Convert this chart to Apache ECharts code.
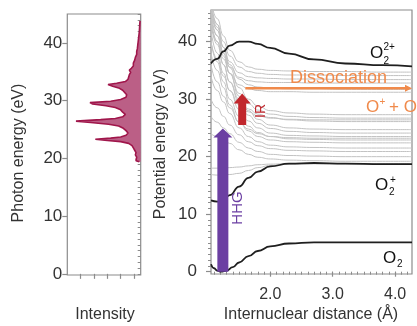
<!DOCTYPE html>
<html>
<head>
<meta charset="utf-8">
<title>O2 HHG spectrum and potential curves</title>
<script src="https://cdn.jsdelivr.net/npm/echarts@6.0.0/dist/echarts.min.js"></script>
<style>
html, body { margin: 0; padding: 0; background: #fff; }
#main { width: 417px; height: 326px; }
</style>
</head>
<body>
<div id="main"></div>
<script>
// left panel: HHG spectrum, photon energy (eV) against intensity (arb. units)
var photonEnergy = [19.4, 19.6, 19.9, 20.2, 20.6, 21.0, 21.4, 21.8, 22.2, 22.6,
  22.9, 23.1, 23.3, 23.5, 23.7, 24.0, 24.4, 24.8, 25.2, 25.6,
  25.9, 26.2, 26.45, 26.7, 26.9, 27.2, 27.6, 28.0, 28.4, 28.8,
  29.1, 29.4, 29.65, 29.9, 30.2, 30.6, 31.0, 31.4, 31.8, 32.2,
  32.5, 32.8, 33.0, 33.3, 33.7, 34.1, 34.5, 34.9, 35.3, 35.6,
  36.0, 36.5, 37.0, 37.5, 38.0, 38.5, 39.0, 40.0, 41.0, 42.0,
  43.0, 43.8];
var intensity = [0.02, 0.07, 0.08, 0.06, 0.08, 0.07, 0.09, 0.11, 0.13, 0.18,
  0.30, 0.50, 0.68, 0.45, 0.30, 0.22, 0.19, 0.22, 0.26, 0.33,
  0.48, 0.75, 0.97, 0.60, 0.38, 0.27, 0.23, 0.27, 0.30, 0.38,
  0.52, 0.72, 0.76, 0.45, 0.30, 0.22, 0.21, 0.24, 0.27, 0.33,
  0.42, 0.49, 0.36, 0.23, 0.19, 0.18, 0.17, 0.15, 0.17, 0.14,
  0.11, 0.11, 0.09, 0.08, 0.06, 0.06, 0.05, 0.04, 0.03, 0.02,
  0.015, 0.01];

// right panel: potential energy curves (eV) against internuclear distance (A)
var distance = [1.05, 1.15, 1.25, 1.35, 1.5, 1.65, 1.8, 2.0, 2.3, 2.7, 3.2, 3.8, 4.27];
var o2Distance = [1.05, 1.1, 1.15, 1.21, 1.3, 1.4, 1.5, 1.65, 1.8, 2.0, 2.3, 2.7, 3.2, 3.8, 4.27];
var o2Ground = [1.3, 0.6, 0.2, 0.0, 0.2, 0.8, 1.6, 2.7, 3.6, 4.4, 4.9, 5.1, 5.1, 5.1, 5.1];
var o2Cation = [12.4, 12.2, 12.5, 13.3, 14.8, 16.3, 17.4, 18.3, 18.8, 18.9, 18.8, 18.7, 18.7];
var o2Dication = [36.2, 37.0, 38.3, 39.3, 40.0, 40.0, 39.6, 38.9, 37.9, 36.9, 36.2, 35.9, 35.7];
var excitedStates = [
  [47, 44, 41, 38.5, 36.5, 35.6, 35.2, 35.0, 34.9, 34.8, 34.8, 34.7, 34.7],
  [46, 43, 40, 37.5, 35.6, 34.8, 34.5, 34.3, 34.2, 34.2, 34.1, 34.1, 34.1],
  [45, 42, 39, 36.5, 34.6, 33.9, 33.7, 33.6, 33.5, 33.5, 33.4, 33.4, 33.4],
  [44, 41, 38, 35.6, 33.8, 33.2, 33.0, 32.9, 32.9, 32.8, 32.8, 32.8, 32.8],
  [46, 42.5, 39, 36, 33.5, 32.5, 32.1, 31.9, 31.8, 31.8, 31.7, 31.7, 31.7],
  [43, 40, 37, 34.5, 32.5, 31.8, 31.5, 31.3, 31.3, 31.2, 31.2, 31.2, 31.2],
  [47, 43, 39, 35.5, 32, 30, 28.8, 28.0, 27.6, 27.4, 27.3, 27.3, 27.3],
  [45, 41, 37.5, 34.5, 31, 29.2, 28.1, 27.4, 27.0, 26.8, 26.7, 26.7, 26.7],
  [43, 39.5, 36, 33, 30, 28.3, 27.4, 26.8, 26.4, 26.2, 26.1, 26.1, 26.1],
  [40, 37, 34, 31.5, 29, 27.8, 27.1, 26.7, 26.5, 26.4, 26.4, 26.4, 26.4],
  [46, 42, 38, 34.5, 30.5, 28, 26.5, 25.5, 25.0, 24.8, 24.7, 24.7, 24.7],
  [44, 40, 36, 33, 29.5, 27.2, 25.8, 24.9, 24.4, 24.2, 24.1, 24.1, 24.1],
  [42, 38, 34.5, 31.5, 28.2, 26.2, 25.0, 24.1, 23.7, 23.6, 23.5, 23.5, 23.5],
  [40, 36.5, 33, 30, 27, 25.3, 24.2, 23.5, 23.1, 23.0, 22.9, 22.9, 22.9],
  [38, 35, 32, 29, 26, 24.5, 23.5, 22.9, 22.6, 22.5, 22.4, 22.4, 22.4],
  [36, 33, 30.5, 28.5, 26, 24.8, 24.0, 23.5, 23.3, 23.2, 23.2, 23.2, 23.2],
  [34, 31.5, 29.5, 27.5, 25, 23.5, 22.6, 22.0, 21.7, 21.6, 21.5, 21.5, 21.5],
  [30, 28.5, 27, 25.5, 23.8, 22.6, 21.9, 21.4, 21.1, 21.0, 20.9, 20.9, 20.9],
  [27, 26, 25, 24, 22.5, 21.5, 20.9, 20.4, 20.2, 20.1, 20.0, 20.0, 20.0],
  [24, 23.5, 23, 22.3, 21.2, 20.4, 19.9, 19.6, 19.4, 19.3, 19.2, 19.2, 19.2],
  [18.0, 18.0, 18.0, 18.1, 18.2, 18.4, 18.6, 18.7, 18.8, 18.8, 18.8, 18.8, 18.8],
  [16.9, 16.8, 16.8, 16.9, 17.1, 17.6, 18.1, 18.5, 18.7, 18.75, 18.75, 18.7, 18.7]
];

// arrows: [distance, from energy, to energy] and [from distance, to distance, energy]
var hhgArrow = [1.24, 0, 24.9];
var irArrow = [1.55, 25.5, 31.0];
var dissociationArrow = [1.6, 4.27, 31.9];

var energyTicks = [0, 10, 20, 30, 40];
var distanceTicks = [2.0, 3.0, 4.0];
var intensityTicks = [0.1, 0.3, 0.5, 0.7, 0.9];

function steps(from, to, step) {
  var out = [];
  for (var v = from; v <= to + 1e-9; v += step) out.push(Math.round(v * 100) / 100);
  return out;
}
var energyMinor = steps(0, 45, 1);
var distanceMinor = steps(1.1, 4.2, 0.1);

var FONT = 'Liberation Sans, Arial, Helvetica, sans-serif';
var BOX = '#8c8c8c';
var TXT = '#333';

var chart = echarts.init(document.getElementById('main'), null, { renderer: 'canvas' });

function hidden() { return { show: false }; }

function blockArrow(color, shaftW, headW, headH) {
  return function (params, api) {
    var p0 = api.coord([api.value(0), api.value(1)]);
    var p1 = api.coord([api.value(0), api.value(2)]);
    var cx = p0[0], yb = p0[1], yt = p1[1];
    return {
      type: 'polygon',
      shape: { points: [
        [cx - shaftW / 2, yb], [cx - shaftW / 2, yt + headH], [cx - headW / 2, yt + headH],
        [cx, yt], [cx + headW / 2, yt + headH], [cx + shaftW / 2, yt + headH], [cx + shaftW / 2, yb]
      ] },
      style: { fill: color }
    };
  };
}

var series = [];

// spectrum fill, closed against zero intensity (right edge)
series.push({
  type: 'custom', xAxisIndex: 0, yAxisIndex: 0, data: [[0, 0]], silent: true, clip: true,
  renderItem: function (params, api) {
    var pts = photonEnergy.map(function (e, i) { return api.coord([intensity[i], e]); });
    pts.push(api.coord([0, photonEnergy[photonEnergy.length - 1]]));
    pts.push(api.coord([0, photonEnergy[0]]));
    return { type: 'polygon', shape: { points: pts }, style: { fill: '#bb5f86' } };
  }
});
series.push({
  type: 'line', xAxisIndex: 0, yAxisIndex: 0, symbol: 'none', silent: true, z: 3,
  data: photonEnergy.map(function (e, i) { return [intensity[i], e]; }),
  lineStyle: { color: '#a0164b', width: 1.6 }
});

excitedStates.forEach(function (curve) {
  series.push({
    type: 'line', xAxisIndex: 1, yAxisIndex: 2, symbol: 'none', silent: true, z: 2,
    smooth: true, smoothMonotone: 'x',
    data: distance.map(function (d, i) { return [d, curve[i]]; }),
    lineStyle: { color: '#c2c2c2', width: 1 }
  });
});

[[o2Distance, o2Ground], [distance, o2Cation], [distance, o2Dication]].forEach(function (c) {
  series.push({
    type: 'line', xAxisIndex: 1, yAxisIndex: 2, symbol: 'none', silent: true, z: 3,
    smooth: true, smoothMonotone: 'x',
    data: c[0].map(function (d, i) { return [d, c[1][i]]; }),
    lineStyle: { color: '#1f1f1f', width: 1.8 }
  });
});

series.push({
  type: 'custom', xAxisIndex: 1, yAxisIndex: 2, data: [dissociationArrow], silent: true, clip: false, z: 5,
  encode: { x: [0, 1], y: 2 },
  renderItem: function (params, api) {
    var p0 = api.coord([api.value(0), api.value(2)]);
    var p1 = api.coord([api.value(1), api.value(2)]);
    return { type: 'group', children: [
      { type: 'line', shape: { x1: p0[0], y1: p0[1], x2: p1[0] - 5, y2: p1[1] },
        style: { stroke: '#f08a4b', lineWidth: 2.4 } },
      { type: 'polygon', shape: { points: [[p1[0] - 7, p1[1] - 3.5], [p1[0], p1[1]], [p1[0] - 7, p1[1] + 3.5]] },
        style: { fill: '#f08a4b' } }
    ] };
  }
});
series.push({
  type: 'custom', xAxisIndex: 1, yAxisIndex: 2, data: [irArrow], silent: true, clip: false, z: 5,
  encode: { x: 0, y: [1, 2] },
  renderItem: blockArrow('#c1272d', 8, 17, 10)
});
series.push({
  type: 'custom', xAxisIndex: 1, yAxisIndex: 2, data: [hhgArrow], silent: true, clip: false, z: 5,
  encode: { x: 0, y: [1, 2] },
  renderItem: blockArrow('#6b3fa2', 11, 19, 9)
});

function txt(x, y, s, size, color, extra) {
  var el = { type: 'text', x: x, y: y, silent: true, z: 10,
    style: { text: s, font: size + 'px ' + FONT, fill: color, align: 'left', verticalAlign: 'middle' } };
  if (extra) {
    if (extra.rotation) el.rotation = extra.rotation;
    if (extra.align) el.style.align = extra.align;
  }
  return el;
}

var graphics = [
  txt(19, 153, 'Photon energy (eV)', 16, TXT, { rotation: Math.PI / 2, align: 'center' }),
  txt(161, 144, 'Potential energy (eV)', 16, TXT, { rotation: Math.PI / 2, align: 'center' }),
  txt(105, 315, 'Intensity', 16, TXT, { align: 'center' }),
  txt(311, 315, 'Internuclear distance (\u00c5)', 16, TXT, { align: 'center' }),
  txt(290, 78, 'Dissociation', 18, '#f08a4b'),
  txt(366, 107, 'O', 17, '#f08a4b'),
  txt(379.5, 102, '+', 10, '#f08a4b'),
  txt(389, 107, '+ O', 17, '#f08a4b'),
  txt(261, 111, 'IR', 14, '#c1272d', { rotation: Math.PI / 2, align: 'center' }),
  txt(238, 208, 'HHG', 15, '#6b3fa2', { rotation: Math.PI / 2, align: 'center' }),
  txt(370, 53, 'O', 17, '#111'),
  txt(383.5, 61, '2', 10, '#111'),
  txt(383.5, 47, '2+', 10, '#111'),
  txt(375, 185, 'O', 17, '#111'),
  txt(389, 192, '2', 10, '#111'),
  txt(390, 180, '+', 10, '#111'),
  txt(383, 258, 'O', 17, '#111'),
  txt(397, 264, '2', 10, '#111')
];

chart.setOption({
  animation: false,
  grid: [
    { left: 67.3, top: 14, right: 276.3, bottom: 51, show: true, borderColor: BOX, borderWidth: 1.2 },
    { left: 211, top: 10, right: 5, bottom: 52, show: true, borderColor: BOX, borderWidth: 1.2 }
  ],
  xAxis: [
    { type: 'value', gridIndex: 0, min: 0, max: 1.1, inverse: true, position: 'bottom',
      axisLine: hidden(), splitLine: hidden(), axisLabel: hidden(),
      axisTick: { show: true, customValues: intensityTicks, length: 5, lineStyle: { color: BOX, width: 1.2 } } },
    { type: 'value', gridIndex: 1, min: 1.05, max: 4.27, position: 'bottom',
      axisLine: hidden(), splitLine: hidden(),
      axisLabel: { customValues: distanceTicks, margin: 13, fontSize: 16, color: TXT, fontFamily: FONT,
        formatter: function (v) { return v.toFixed(1); } },
      axisTick: { show: true, customValues: distanceMinor, length: 3, lineStyle: { color: BOX, width: 1 } } },
    { type: 'value', gridIndex: 1, min: 1.05, max: 4.27, position: 'bottom',
      axisLine: hidden(), splitLine: hidden(), axisLabel: hidden(),
      axisTick: { show: true, customValues: distanceTicks, length: 5, lineStyle: { color: BOX, width: 1.2 } } }
  ],
  yAxis: [
    { type: 'value', gridIndex: 0, min: -0.2, max: 45, position: 'left',
      axisLine: hidden(), splitLine: hidden(),
      axisLabel: { customValues: energyTicks, margin: 5, fontSize: 17, color: TXT, fontFamily: FONT },
      axisTick: { show: true, customValues: energyMinor, length: 3, lineStyle: { color: BOX, width: 1 } } },
    { type: 'value', gridIndex: 0, min: -0.2, max: 45, position: 'left',
      axisLine: hidden(), splitLine: hidden(), axisLabel: hidden(),
      axisTick: { show: true, customValues: energyTicks, length: 5, lineStyle: { color: BOX, width: 1.2 } } },
    { type: 'value', gridIndex: 1, min: -0.4, max: 45.5, position: 'left',
      axisLine: hidden(), splitLine: hidden(),
      axisLabel: { customValues: energyTicks, margin: 14, fontSize: 17, color: TXT, fontFamily: FONT },
      axisTick: { show: true, customValues: energyMinor, length: 3, lineStyle: { color: BOX, width: 1 } } },
    { type: 'value', gridIndex: 1, min: -0.4, max: 45.5, position: 'left',
      axisLine: hidden(), splitLine: hidden(), axisLabel: hidden(),
      axisTick: { show: true, customValues: energyTicks, length: 5, lineStyle: { color: BOX, width: 1.2 } } }
  ],
  series: series,
  graphic: graphics
});
</script>
</body>
</html>
